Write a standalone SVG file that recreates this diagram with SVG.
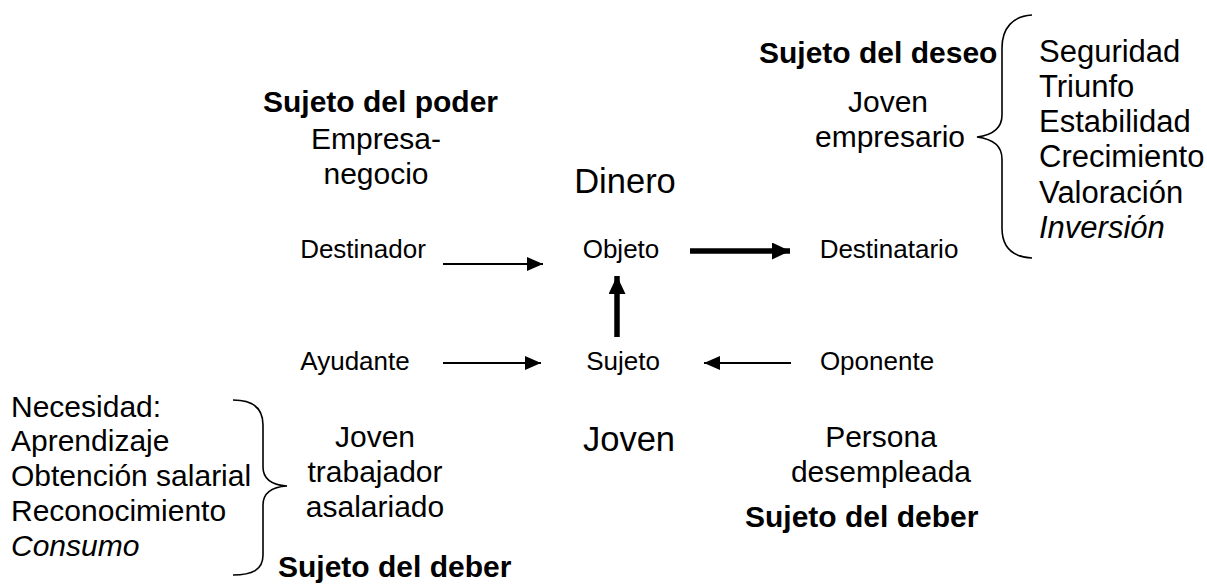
<svg xmlns="http://www.w3.org/2000/svg" width="1207" height="586" viewBox="0 0 1207 586">
<style>
text{font-family:"Liberation Sans",Arial,sans-serif;fill:#000}
.s{font-size:26px}
.m{font-size:30px}
.r{font-size:31px}
.l{font-size:34.5px}
.b{font-size:30px;font-weight:bold}
.i{font-style:italic}
.c{text-anchor:middle}
.thin{stroke:#000;stroke-width:2;fill:none}
.thick{stroke:#000;stroke-width:5.5;fill:none}
.brace{stroke:#000;stroke-width:1.6;fill:none}
</style>
<defs>
<marker id="ah" markerUnits="userSpaceOnUse" markerWidth="16" markerHeight="14" refX="16" refY="7" orient="auto"><path d="M0,0 L16,7 L0,14 Z" fill="#000"/></marker>
<marker id="ahb" markerUnits="userSpaceOnUse" markerWidth="18" markerHeight="17" refX="18" refY="8.5" orient="auto"><path d="M0,0 L18,8.5 L0,17 Z" fill="#000"/></marker>
</defs>
<g id="destinador"><text class="s c" x="363" y="258">Destinador</text></g>
<g id="objeto"><text class="s c" x="621" y="258">Objeto</text></g>
<g id="destinatario"><text class="s c" x="889" y="258">Destinatario</text></g>
<g id="ayudante"><text class="s c" x="355" y="370">Ayudante</text></g>
<g id="sujeto"><text class="s c" x="623" y="370">Sujeto</text></g>
<g id="oponente"><text class="s c" x="877" y="370">Oponente</text></g>
<g id="poder"><text class="b" x="263" y="112">Sujeto del poder</text><text class="m c" x="376" y="149">Empresa-</text><text class="m c" x="376" y="184">negocio</text></g>
<g id="dinero"><text class="l c" x="625" y="193">Dinero</text></g>
<g id="deseo"><text class="b" x="759" y="63">Sujeto del deseo</text><text class="m c" x="888" y="112">Joven</text><text class="m c" x="890" y="147">empresario</text></g>
<g id="lista-deseo"><path class="brace" d="M1032,15 C1013,16 1002,28 1002,48 L1002,115 C1002,128 993,135 977,137 C993,139 1002,146 1002,159 L1002,228 C1002,248 1013,257 1032,258"/>
<text class="r" x="1039" y="62">Seguridad</text><text class="r" x="1039" y="97">Triunfo</text><text class="r" x="1039" y="132">Estabilidad</text><text class="r" x="1039" y="167">Crecimiento</text><text class="r" x="1039" y="203">Valoración</text><text class="r i" x="1039" y="238">Inversión</text></g>
<g id="lista-deber"><path class="brace" d="M233,400 C252,400 263,408 263,425 L263,467 C263,479 272,485 287,486 C272,487 263,493 263,505 L263,555 C263,570 252,575 233,575"/>
<text class="m" x="11" y="417">Necesidad:</text><text class="m" x="11" y="451">Aprendizaje</text><text class="m" x="11" y="486">Obtención salarial</text><text class="m" x="11" y="521">Reconocimiento</text><text class="m i" x="11" y="556">Consumo</text></g>
<g id="trabajador"><text class="m c" x="375" y="447">Joven</text><text class="m c" x="375" y="482">trabajador</text><text class="m c" x="375" y="517">asalariado</text><text class="b" x="278" y="577">Sujeto del deber</text></g>
<g id="joven"><text class="l c" x="629" y="451">Joven</text></g>
<g id="desempleada"><text class="m c" x="881" y="447">Persona</text><text class="m c" x="881" y="482">desempleada</text><text class="b" x="745" y="527">Sujeto del deber</text></g>
<g id="connectors">
<line class="thin" x1="443" y1="264" x2="543" y2="264" marker-end="url(#ah)"/>
<line class="thick" x1="690" y1="251" x2="790" y2="251" marker-end="url(#ahb)"/>
<line class="thick" x1="617" y1="337" x2="617" y2="276" marker-end="url(#ahb)"/>
<line class="thin" x1="443" y1="363" x2="541" y2="363" marker-end="url(#ah)"/>
<line class="thin" x1="791" y1="363" x2="704" y2="363" marker-end="url(#ah)"/>
</g>
</svg>
